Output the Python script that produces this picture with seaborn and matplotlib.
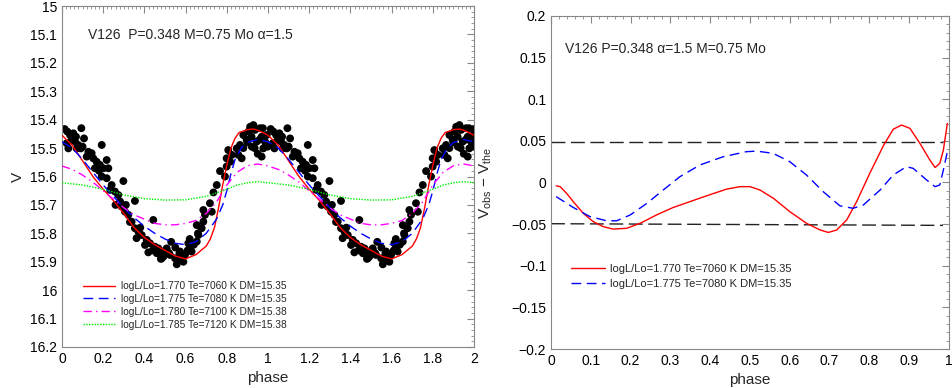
import numpy as np
import pandas as pd
import matplotlib
matplotlib.use("Agg")
import matplotlib.pyplot as plt
import seaborn as sns
from matplotlib.ticker import MultipleLocator, AutoMinorLocator, FuncFormatter

# ---- left panel: model light curves (one cycle, phase 0..1) ----
red_phase = [0.00, 0.05, 0.10, 0.15, 0.20, 0.25, 0.30, 0.35, 0.40, 0.45, 0.50, 0.55, 0.60,
             0.65, 0.70, 0.72, 0.74, 0.76, 0.78, 0.80, 0.82, 0.84, 0.86, 0.90, 0.93, 0.96]
red_v = [15.455, 15.49, 15.545, 15.60, 15.645, 15.685, 15.73, 15.78, 15.815, 15.84, 15.86, 15.88, 15.89,
         15.875, 15.845, 15.82, 15.78, 15.71, 15.63, 15.56, 15.50, 15.465, 15.445, 15.435, 15.433, 15.44]

blue_phase = [0.00, 0.05, 0.10, 0.15, 0.20, 0.25, 0.30, 0.35, 0.40, 0.45, 0.50, 0.55, 0.60,
              0.65, 0.70, 0.75, 0.78, 0.80, 0.82, 0.84, 0.87, 0.90, 0.95]
blue_v = [15.478, 15.50, 15.54, 15.585, 15.63, 15.67, 15.71, 15.745, 15.775, 15.80, 15.82, 15.835, 15.84,
          15.83, 15.80, 15.75, 15.70, 15.65, 15.59, 15.54, 15.50, 15.48, 15.47]

mag_phase = [0.00, 0.05, 0.10, 0.15, 0.20, 0.25, 0.30, 0.35, 0.40, 0.45, 0.50, 0.55, 0.60,
             0.65, 0.70, 0.75, 0.80, 0.85, 0.90, 0.95]
mag_v = [15.563, 15.575, 15.595, 15.62, 15.65, 15.68, 15.71, 15.735, 15.75, 15.765, 15.77, 15.77, 15.765,
         15.755, 15.73, 15.69, 15.63, 15.585, 15.562, 15.556]

green_phase = [0.00, 0.10, 0.20, 0.30, 0.40, 0.50, 0.60, 0.70, 0.80, 0.85, 0.90, 0.95]
green_v = [15.622, 15.63, 15.645, 15.665, 15.678, 15.683, 15.682, 15.67, 15.645, 15.63, 15.622, 15.618]

# observed photometry (one cycle)
obs_phase = [0.013, 0.026, 0.039, 0.055, 0.068, 0.094, 0.107, 0.023, 0.047, 0.063, 0.079, 0.091, 0.031,
             0.071, 0.100, 0.128, 0.144, 0.152, 0.193, 0.168, 0.184, 0.217, 0.160, 0.201, 0.225, 0.193,
             0.217, 0.241, 0.233, 0.257, 0.273, 0.298, 0.282, 0.290, 0.306, 0.322, 0.354, 0.338, 0.354,
             0.371, 0.362, 0.387, 0.411, 0.403, 0.427, 0.443, 0.451, 0.468, 0.484, 0.419, 0.492, 0.508,
             0.484, 0.508, 0.524, 0.549, 0.557, 0.573, 0.597, 0.589, 0.613, 0.621, 0.629, 0.654, 0.662,
             0.678, 0.686, 0.654, 0.694, 0.686, 0.727, 0.718, 0.735, 0.751, 0.767, 0.791, 0.799, 0.799,
             0.816, 0.807, 0.824, 0.848, 0.856, 0.872, 0.864, 0.880, 0.896, 0.905, 0.913, 0.929, 0.937,
             0.945, 0.921, 0.961, 0.969, 0.977, 0.985, 0.994, 0.969, 0.998, 0.975, 0.960, 0.935, 0.900,
             0.880, 0.950, 0.920, 0.990, 0.530, 0.550, 0.570, 0.590, 0.610, 0.620, 0.640, 0.660, 0.440,
             0.460, 0.480, 0.500, 0.120, 0.180, 0.260, 0.310, 0.330, 0.380, 0.520, 0.580]
obs_v = [15.433, 15.442, 15.454, 15.448, 15.460, 15.430, 15.466, 15.483, 15.471, 15.477, 15.489, 15.501,
         15.501, 15.501, 15.495, 15.513, 15.518, 15.536, 15.489, 15.548, 15.559, 15.542, 15.571, 15.571,
         15.571, 15.600, 15.606, 15.630, 15.647, 15.653, 15.665, 15.616, 15.688, 15.706, 15.724, 15.735,
         15.686, 15.759, 15.782, 15.794, 15.817, 15.806, 15.823, 15.841, 15.835, 15.753, 15.847, 15.853,
         15.864, 15.867, 15.882, 15.859, 15.888, 15.853, 15.876, 15.888, 15.909, 15.864, 15.876, 15.900,
         15.835, 15.853, 15.864, 15.829, 15.806, 15.782, 15.759, 15.771, 15.735, 15.718, 15.724, 15.694,
         15.656, 15.630, 15.581, 15.600, 15.565, 15.536, 15.548, 15.507, 15.524, 15.501, 15.524, 15.536,
         15.489, 15.454, 15.471, 15.442, 15.425, 15.419, 15.436, 15.477, 15.495, 15.430, 15.460, 15.501,
         15.477, 15.454, 15.530, 15.495, 15.430, 15.470, 15.500, 15.480, 15.500, 15.520, 15.460, 15.490,
         15.830, 15.850, 15.870, 15.880, 15.860, 15.820, 15.840, 15.800, 15.860, 15.870, 15.890, 15.870,
         15.530, 15.580, 15.700, 15.700, 15.760, 15.780, 15.870, 15.890]

# ---- right panel: residuals ----
res_red_phase = [0.013, 0.023, 0.039, 0.056, 0.081, 0.106, 0.131, 0.156, 0.190, 0.224, 0.265, 0.307,
                 0.349, 0.391, 0.441, 0.475, 0.500, 0.525, 0.559, 0.600, 0.642, 0.676, 0.697, 0.718,
                 0.743, 0.768, 0.802, 0.835, 0.860, 0.881, 0.902, 0.927, 0.952, 0.965, 0.977, 0.986, 0.996]
res_red = [-0.004, -0.005, -0.013, -0.023, -0.037, -0.047, -0.053, -0.056, -0.055, -0.049, -0.039, -0.030,
           -0.023, -0.016, -0.008, -0.005, -0.005, -0.009, -0.019, -0.035, -0.049, -0.057, -0.060, -0.057,
           -0.045, -0.023, 0.012, 0.044, 0.064, 0.069, 0.065, 0.047, 0.027, 0.018, 0.023, 0.039, 0.071]

res_blue_phase = [0.013, 0.056, 0.098, 0.140, 0.165, 0.199, 0.241, 0.282, 0.324, 0.374, 0.433, 0.491,
                  0.517, 0.558, 0.600, 0.642, 0.684, 0.726, 0.759, 0.785, 0.827, 0.860, 0.893, 0.910,
                  0.944, 0.965, 0.977, 0.986, 0.996]
res_blue = [-0.017, -0.030, -0.041, -0.046, -0.046, -0.039, -0.025, -0.009, 0.007, 0.021, 0.031, 0.037,
            0.0377, 0.035, 0.025, 0.009, -0.011, -0.028, -0.031, -0.027, -0.009, 0.009, 0.019, 0.017,
            0.003, -0.005, -0.003, 0.015, 0.037]

band_phase = [0.0, 0.985]
band_hi = [0.049, 0.049]
band_lo = [-0.0495, -0.0515]

labels = ["logL/Lo=1.770 Te=7060 K DM=15.35",
          "logL/Lo=1.775 Te=7080 K DM=15.35",
          "logL/Lo=1.780 Te=7100 K DM=15.38",
          "logL/Lo=1.785 Te=7120 K DM=15.38"]


def two_cycles(ph, val):
    ph = np.asarray(ph)
    val = np.asarray(val)
    return (np.concatenate([ph, ph + 1, [2.0]]),
            np.concatenate([val, val, [val[0]]]))


sns.set_style("white")
plt.rcParams["font.family"] = ["Liberation Sans", "DejaVu Sans"]
plt.rcParams["mathtext.fontset"] = "custom"
plt.rcParams["mathtext.rm"] = "Liberation Sans"
plt.rcParams["mathtext.it"] = "Liberation Sans"

fig = plt.figure(figsize=(9.52, 3.88), dpi=100)
ax1 = fig.add_axes([0.0651, 0.1057, 0.4329, 0.8788])
ax2 = fig.add_axes([0.5788, 0.1005, 0.4180, 0.8583])

# left panel
x, y = two_cycles(obs_phase, obs_v)
sns.scatterplot(x=x, y=y, ax=ax1, color="black", s=32, edgecolor="none", zorder=2)
styles = [("red", "-", red_phase, red_v),
          ("blue", (0, (7, 4)), blue_phase, blue_v),
          ("magenta", (0, (6, 3, 1, 3)), mag_phase, mag_v),
          ("#00ee00", (0, (1, 1)), green_phase, green_v)]
for (c, ls, ph, v), lab in zip(styles, labels):
    xx, yy = two_cycles(ph, v)
    sns.lineplot(x=xx, y=yy, ax=ax1, color=c, linestyle=ls, lw=1.0, label=lab, zorder=3)

ax1.set_xlim(0, 2)
ax1.set_ylim(16.2, 15.0)
ax1.xaxis.set_major_locator(MultipleLocator(0.2))
ax1.xaxis.set_minor_locator(AutoMinorLocator(10))
ax1.yaxis.set_major_locator(MultipleLocator(0.1))
ax1.yaxis.set_minor_locator(AutoMinorLocator(5))
ax1.set_xlabel("phase", fontsize=11)
ax1.set_ylabel("V", fontsize=11)
ax1.text(0.125, 15.115, "V126  P=0.348 M=0.75 Mo \u03b1=1.5", fontsize=10)
ax1.legend(loc="upper left", bbox_to_anchor=(0.04, 0.205), frameon=False, fontsize=7.3,
           handlelength=3.2, handletextpad=0.6, labelspacing=0.28, borderaxespad=0)

# right panel
sns.lineplot(x=band_phase, y=band_hi, ax=ax2, color="#222222", linestyle=(0, (10, 4)), lw=1.0)
sns.lineplot(x=band_phase, y=band_lo, ax=ax2, color="#222222", linestyle=(0, (10, 4)), lw=1.0)
sns.lineplot(x=res_red_phase, y=res_red, ax=ax2, color="red", lw=1.0, label=labels[0])
sns.lineplot(x=res_blue_phase, y=res_blue, ax=ax2, color="blue", linestyle=(0, (7, 4)), lw=1.0,
             label=labels[1])
ax2.set_xlim(0, 1)
ax2.set_ylim(-0.2, 0.2)
ax2.xaxis.set_major_locator(MultipleLocator(0.1))
ax2.xaxis.set_minor_locator(AutoMinorLocator(5))
ax2.yaxis.set_major_locator(MultipleLocator(0.05))
ax2.yaxis.set_minor_locator(AutoMinorLocator(5))
ax2.set_xlabel("phase", fontsize=11)
ax2.set_ylabel(r"V$_{\rm obs}$ $-$ V$_{\rm the}$", fontsize=11, labelpad=12)
ax2.text(0.035, 0.155, "V126 P=0.348 \u03b1=1.5 M=0.75 Mo", fontsize=10)
ax2.legend(loc="upper left", bbox_to_anchor=(0.04, 0.268), frameon=False, fontsize=8,
           handlelength=3.0, handletextpad=0.5, labelspacing=0.4, borderaxespad=0)

fmt = FuncFormatter(lambda v, p: ("%g" % round(v, 4)).replace("-", "\u2212"))
for ax in (ax1, ax2):
    ax.xaxis.set_major_formatter(fmt)
    ax.yaxis.set_major_formatter(fmt)
    ax.tick_params(which="both", direction="in", top=True, right=True, color="#888888",
                   labelsize=10, labelcolor="black")
    ax.tick_params(which="major", length=5)
    ax.tick_params(which="minor", length=2.5)
    for s in ax.spines.values():
        s.set_color("#888888")
        s.set_linewidth(0.8)

fig.savefig("out.png", dpi=100)
